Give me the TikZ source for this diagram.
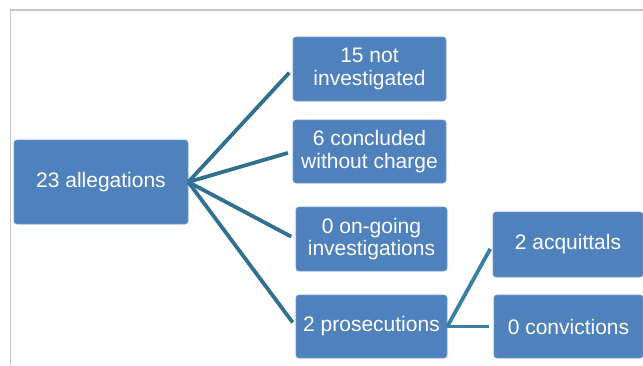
\documentclass[tikz,border=0pt]{standalone}
\usepackage{fontspec}
\setmainfont{Liberation Sans}
\definecolor{boxblue}{HTML}{4F81BD}
\definecolor{linkteal}{HTML}{31708F}
\definecolor{sublink}{HTML}{3A80A2}
\definecolor{framegray}{HTML}{C4C4C4}
\begin{document}
\begin{tikzpicture}[
  x=1pt, y=-1pt,
  box/.style={fill=boxblue, draw=boxblue!80!white, line width=0.6pt, rounded corners=3pt, text=white, align=center, inner sep=0pt, font=\fontsize{21}{22.5}\selectfont},
  link/.style={linkteal, line width=3.8pt, shorten >=5pt},
  sub/.style={sublink, line width=3.8pt, shorten >=5pt}
]
\useasboundingbox (0,0) rectangle (643,365);
\draw[framegray, line width=1.3pt] (10.5,365) -- (10.5,10) -- (643,10);
% first level
\node[box, minimum width=174pt, minimum height=84pt] (alleg) at (101,182) {23 allegations};
\node[box, minimum width=153pt, minimum height=64pt] (notinv) at (369.5,69) {15 not\\investigated};
\node[box, minimum width=153pt, minimum height=63pt] (concl) at (369.5,151.5) {6 concluded\\without charge};
\node[box, minimum width=151pt, minimum height=64pt] (ongoing) at (371.5,239) {0 on-going\\investigations};
\node[box, minimum width=151pt, minimum height=63pt] (prosec) at (371.5,326.5) {2 prosecutions};
% second level
\node[box, minimum width=150pt, minimum height=65pt] (acquit) at (568,244.5) {2 acquittals};
\node[box, minimum width=149pt, minimum height=63pt] (convict) at (568.5,326.5) {0 convictions};
\draw[link] (alleg.east) -- (notinv.west);
\draw[link] (alleg.east) -- (concl.west);
\draw[link] (alleg.east) -- (ongoing.west);
\draw[link] (alleg.east) -- (prosec.west);
\draw[sub] (prosec.east) -- (acquit.west);
\draw[sub] (prosec.east) -- (convict.west);
\end{tikzpicture}
\end{document}
